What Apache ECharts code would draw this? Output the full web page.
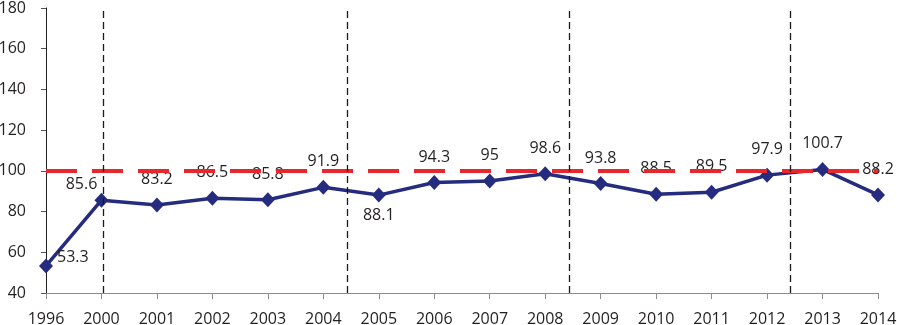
<!DOCTYPE html>
<html>
<head>
<meta charset="utf-8">
<script src="https://cdn.jsdelivr.net/npm/echarts@6/dist/echarts.min.js"></script>
<style>
  html, body { margin: 0; padding: 0; background: #fff; }
  #chart { width: 897px; height: 325px; }
</style>
</head>
<body>
<div id="chart"></div>
<script>
// categories and values
const years = ['1996', '2000', '2001', '2002', '2003', '2004', '2005', '2006',
  '2007', '2008', '2009', '2010', '2011', '2012', '2013', '2014'];
const values = [53.3, 85.6, 83.2, 86.5, 85.8, 91.9, 88.1, 94.3,
  95, 98.6, 93.8, 88.5, 89.5, 97.9, 100.7, 88.2];
// where each value label sits relative to its point
const labelPlace = ['right', 'topLeft', 'top', 'top', 'top', 'top', 'bottom', 'top',
  'top', 'top', 'top', 'top', 'top', 'top', 'top', 'top'];
// reference lines: horizontal level and vertical period separators (x in category index units)
const refLevel = 100;
const separators = [1.04, 5.43, 9.43, 13.41];
const yTicks = { min: 40, max: 180, interval: 20 };

const chart = echarts.init(document.getElementById('chart'));
const font = '"Open Sans", "Liberation Sans", sans-serif';
const txt = '#231f20';

function labelFor(place) {
  if (place === 'right') return { position: 'right', distance: 4, offset: [0, -8] };
  if (place === 'bottom') return { position: 'bottom', distance: 5 };
  if (place === 'topLeft') return { position: 'top', distance: 0, offset: [-20, 0] };
  return { position: 'top', distance: 10 };
}

const points = values.map((v, i) => ({
  value: [i, v],
  label: labelFor(labelPlace[i])
}));

chart.setOption({
  animation: false,
  grid: { left: 46, right: 19, top: 8, bottom: 32, outerBoundsMode: 'none', containLabel: false },
  xAxis: {
    type: 'value',
    min: 0,
    max: years.length - 1,
    interval: 1,
    axisLine: { show: true, lineStyle: { color: '#8c8c8c', width: 1 } },
    axisTick: { show: true, length: 6, lineStyle: { color: '#8c8c8c' } },
    splitLine: { show: false },
    axisLabel: {
      margin: 18,
      fontSize: 16,
      fontFamily: font,
      color: txt,
      formatter: v => years[v] || ''
    }
  },
  yAxis: {
    type: 'value',
    min: yTicks.min,
    max: yTicks.max,
    interval: yTicks.interval,
    axisLine: { show: true, lineStyle: { color: '#222', width: 1 } },
    axisTick: { show: true, length: 5, lineStyle: { color: '#555' } },
    splitLine: { show: false },
    axisLabel: { margin: 20, fontSize: 16, fontFamily: font, color: txt }
  },
  series: [
    {
      // reference lines, kept under the data line
      type: 'line',
      data: [],
      z: 1,
      silent: true,
      markLine: {
        symbol: 'none',
        silent: true,
        label: { show: false },
        data: [
          { yAxis: refLevel, lineStyle: { color: '#e8262b', width: 4, type: [31, 15] } }
        ].concat(separators.map(x => ({
          xAxis: x,
          lineStyle: { color: '#1a1a1a', width: 1.3, type: [7, 4] }
        })))
      }
    },
    {
      type: 'line',
      z: 3,
      data: points,
      symbol: 'diamond',
      symbolSize: [14, 15],
      lineStyle: { color: '#252b7e', width: 3.5 },
      itemStyle: { color: '#252b7e' },
      label: {
        show: true,
        fontSize: 16,
        fontFamily: font,
        color: txt,
        formatter: p => p.value[1]
      }
    }
  ]
});
</script>
</body>
</html>
